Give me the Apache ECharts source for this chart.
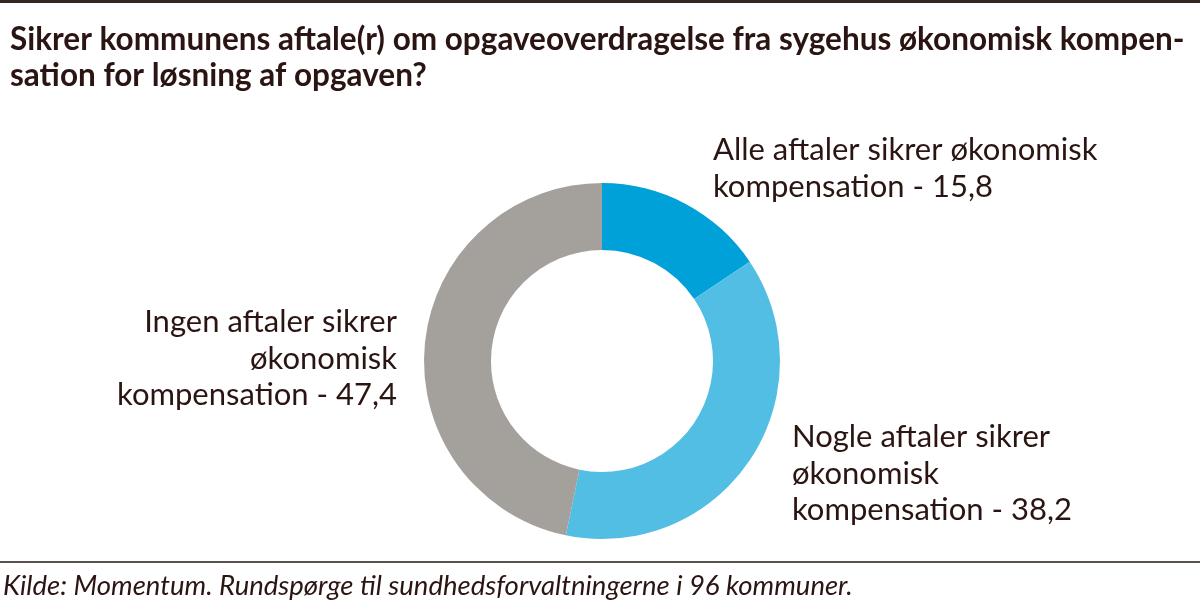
<!DOCTYPE html>
<html>
<head>
<meta charset="utf-8">
<script src="https://cdn.jsdelivr.net/npm/echarts@6/dist/echarts.min.js"></script>
<style>
html,body{margin:0;padding:0;background:#fff;}
#chart{width:1200px;height:609px;}
</style>
</head>
<body>
<div id="chart"></div>
<script>
var titleText = "Sikrer kommunens aftale(r) om opgaveoverdragelse fra sygehus økonomisk kompen-\nsation for løsning af opgaven?";
var sourceText = "Kilde: Momentum. Rundspørge til sundhedsforvaltningerne i 96 kommuner.";
var categories = [
  "Alle aftaler sikrer økonomisk\nkompensation",
  "Nogle aftaler sikrer\nøkonomisk\nkompensation",
  "Ingen aftaler sikrer\nøkonomisk\nkompensation"
];
var values = [15.8, 38.2, 47.4];
var colors = ["#00a0d9", "#52bee4", "#a4a19d"];

// label anchor placement (layout only)
var labelPos = [
  {x: 713, y: 132, align: 'left'},
  {x: 792, y: 419, align: 'left'},
  {x: 397, y: 304, align: 'right'}
];

var chart = echarts.init(document.getElementById('chart'));
var textColor = '#2a1512';
var data = categories.map(function (c, i) {
  return {name: c, value: values[i], itemStyle: {color: colors[i]}};
});

chart.setOption({
  animation: false,
  title: {
    text: titleText,
    left: 5,
    top: 17,
    textStyle: {
      fontFamily: 'Lato',
      fontWeight: 'bold',
      fontSize: 31.5,
      lineHeight: 36,
      color: textColor
    }
  },
  graphic: [
    {type: 'rect', shape: {x: 0, y: 0, width: 1200, height: 3}, style: {fill: '#3a2420'}},
    {type: 'rect', shape: {x: 0, y: 561, width: 1200, height: 2}, style: {fill: '#5a524d'}},
    {type: 'text', left: 3, top: 573, style: {text: sourceText, fontFamily: 'Lato', fontStyle: 'italic', fontSize: 27.5, fill: textColor}}
  ],
  series: [{
    type: 'pie',
    center: [602, 361],
    radius: [111, 178],
    startAngle: 90,
    clockwise: true,
    data: data,
    itemStyle: {borderWidth: 0},
    emphasis: {disabled: true},
    labelLine: {show: false},
    label: {
      show: true,
      position: 'outside',
      fontFamily: 'Lato',
      fontSize: 31,
      lineHeight: 36.5,
      color: textColor,
      formatter: function (p) {
        return p.name + ' - ' + String(p.value).replace('.', ',');
      }
    },
    labelLayout: function (params) {
      var lp = labelPos[params.dataIndex];
      return {x: lp.x, y: lp.y, align: lp.align, verticalAlign: 'top', hideOverlap: false, moveOverlap: false};
    }
  }]
});
</script>
</body>
</html>
